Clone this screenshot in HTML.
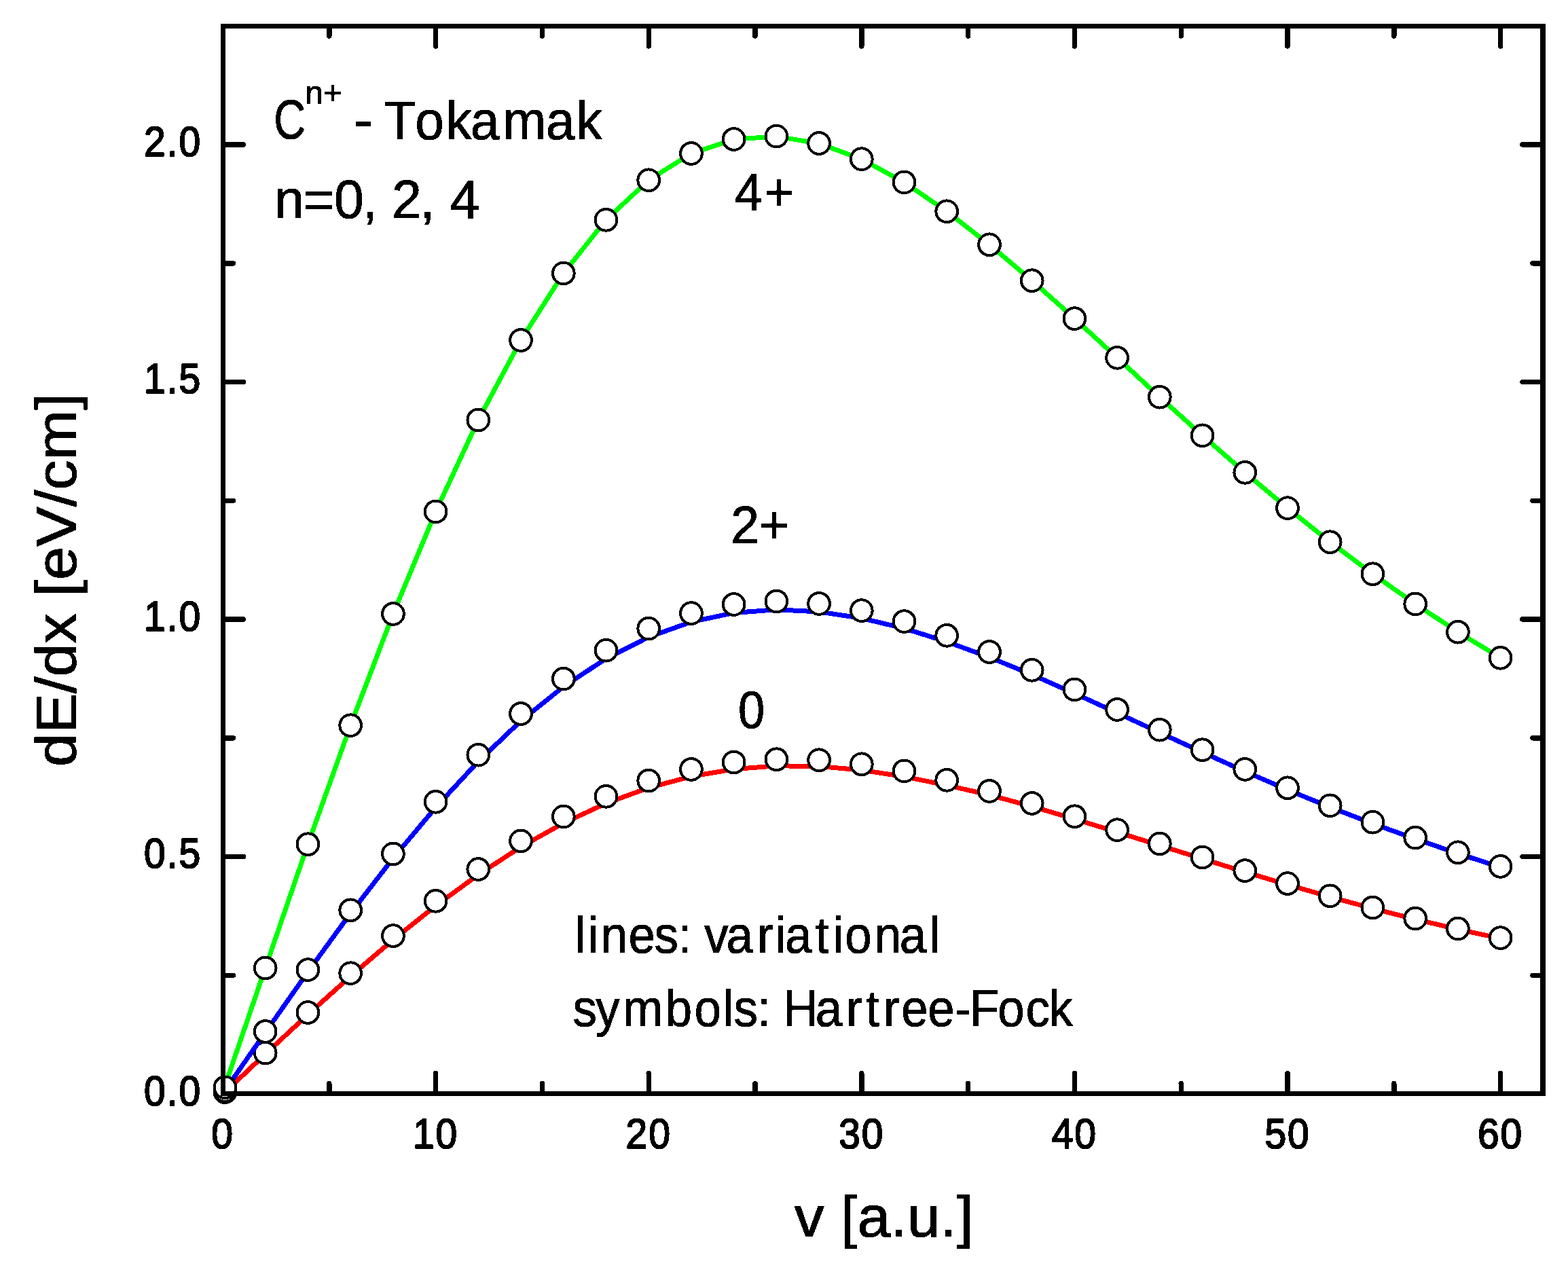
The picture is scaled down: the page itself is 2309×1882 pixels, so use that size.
<!DOCTYPE html>
<html lang="en"><head><meta charset="utf-8"><title>dE/dx vs v</title>
<style>html,body{margin:0;padding:0;background:#fff}svg{display:block}</style></head>
<body>
<svg width="2309" height="1882" viewBox="0 0 2309 1882">
<rect width="2309" height="1882" fill="#fff"/>
<defs><filter id="thr" x="-5%" y="-5%" width="110%" height="110%" color-interpolation-filters="sRGB"><feComponentTransfer><feFuncA type="discrete" tableValues="0 1"/></feComponentTransfer></filter></defs>
<g shape-rendering="crispEdges">
<polyline points="329.9,1609.6 390.7,1552.2 453.4,1494.1 516.2,1437.6 578.9,1383.9 641.6,1333.9 704.3,1288.1 767.0,1247.2 829.8,1212.1 892.5,1183.0 955.2,1160.1 1017.9,1143.4 1080.6,1132.7 1143.4,1127.8 1206.1,1128.5 1268.8,1134.1 1331.5,1143.7 1394.2,1156.3 1457.0,1170.7 1519.7,1187.6 1582.4,1206.1 1645.1,1225.4 1707.8,1245.0 1770.6,1264.7 1833.3,1284.1 1896.0,1302.8 1958.7,1320.8 2021.4,1337.8 2084.2,1353.7 2146.9,1368.5 2209.6,1382.0" fill="none" stroke="#ff0000" stroke-width="7" stroke-linejoin="round"/>
<g fill="#fff" stroke="#000" stroke-width="4.0"><circle cx="331.4" cy="1608.1" r="15.85"/><circle cx="390.7" cy="1550.6" r="15.85"/><circle cx="453.4" cy="1491.0" r="15.85"/><circle cx="516.2" cy="1433.2" r="15.85"/><circle cx="578.9" cy="1378.1" r="15.85"/><circle cx="641.6" cy="1326.8" r="15.85"/><circle cx="704.3" cy="1280.0" r="15.85"/><circle cx="767.0" cy="1238.4" r="15.85"/><circle cx="829.8" cy="1202.5" r="15.85"/><circle cx="892.5" cy="1172.8" r="15.85"/><circle cx="955.2" cy="1149.6" r="15.85"/><circle cx="1017.9" cy="1132.9" r="15.85"/><circle cx="1080.6" cy="1122.5" r="15.85"/><circle cx="1143.4" cy="1118.2" r="15.85"/><circle cx="1206.1" cy="1119.3" r="15.85"/><circle cx="1268.8" cy="1125.3" r="15.85"/><circle cx="1331.5" cy="1135.4" r="15.85"/><circle cx="1394.2" cy="1148.8" r="15.85"/><circle cx="1457.0" cy="1164.9" r="15.85"/><circle cx="1519.7" cy="1182.9" r="15.85"/><circle cx="1582.4" cy="1202.2" r="15.85"/><circle cx="1645.1" cy="1222.2" r="15.85"/><circle cx="1707.8" cy="1242.4" r="15.85"/><circle cx="1770.6" cy="1262.5" r="15.85"/><circle cx="1833.3" cy="1282.1" r="15.85"/><circle cx="1896.0" cy="1301.1" r="15.85"/><circle cx="1958.7" cy="1319.3" r="15.85"/><circle cx="2021.4" cy="1336.5" r="15.85"/><circle cx="2084.2" cy="1352.6" r="15.85"/><circle cx="2146.9" cy="1367.5" r="15.85"/><circle cx="2209.6" cy="1381.1" r="15.85"/></g>
<polyline points="329.9,1607.7 390.7,1520.5 453.4,1431.1 516.2,1344.9 578.9,1263.8 641.6,1189.0 704.3,1121.3 767.0,1061.7 829.8,1011.1 892.5,969.9 955.2,938.2 1017.9,915.8 1080.6,902.5 1143.4,897.8 1206.1,900.9 1268.8,910.4 1331.5,925.4 1394.2,945.0 1457.0,967.9 1519.7,993.6 1582.4,1021.2 1645.1,1049.8 1707.8,1078.9 1770.6,1107.8 1833.3,1136.1 1896.0,1163.1 1958.7,1188.7 2021.4,1212.8 2084.2,1235.5 2146.9,1256.8 2209.6,1277.2" fill="none" stroke="#0000ff" stroke-width="7" stroke-linejoin="round"/>
<g fill="#fff" stroke="#000" stroke-width="4.0"><circle cx="331.4" cy="1606.2" r="15.85"/><circle cx="390.7" cy="1519.0" r="15.85"/><circle cx="453.4" cy="1428.1" r="15.85"/><circle cx="516.2" cy="1340.3" r="15.85"/><circle cx="578.9" cy="1257.4" r="15.85"/><circle cx="641.6" cy="1180.8" r="15.85"/><circle cx="704.3" cy="1111.7" r="15.85"/><circle cx="767.0" cy="1051.0" r="15.85"/><circle cx="829.8" cy="999.6" r="15.85"/><circle cx="892.5" cy="957.7" r="15.85"/><circle cx="955.2" cy="925.6" r="15.85"/><circle cx="1017.9" cy="903.1" r="15.85"/><circle cx="1080.6" cy="890.0" r="15.85"/><circle cx="1143.4" cy="885.5" r="15.85"/><circle cx="1206.1" cy="888.9" r="15.85"/><circle cx="1268.8" cy="899.1" r="15.85"/><circle cx="1331.5" cy="915.1" r="15.85"/><circle cx="1394.2" cy="935.8" r="15.85"/><circle cx="1457.0" cy="960.0" r="15.85"/><circle cx="1519.7" cy="986.8" r="15.85"/><circle cx="1582.4" cy="1015.4" r="15.85"/><circle cx="1645.1" cy="1044.9" r="15.85"/><circle cx="1707.8" cy="1074.7" r="15.85"/><circle cx="1770.6" cy="1104.2" r="15.85"/><circle cx="1833.3" cy="1132.9" r="15.85"/><circle cx="1896.0" cy="1160.3" r="15.85"/><circle cx="1958.7" cy="1186.3" r="15.85"/><circle cx="2021.4" cy="1210.7" r="15.85"/><circle cx="2084.2" cy="1233.6" r="15.85"/><circle cx="2146.9" cy="1255.3" r="15.85"/><circle cx="2209.6" cy="1275.9" r="15.85"/></g>
<polyline points="329.9,1602.8 390.7,1425.5 453.4,1243.2 516.2,1068.2 578.9,904.0 641.6,753.4 704.3,618.5 767.0,501.0 829.8,402.4 892.5,323.8 955.2,265.3 1017.9,226.1 1080.6,205.2 1143.4,200.9 1206.1,211.3 1268.8,234.4 1331.5,268.5 1394.2,311.3 1457.0,360.3 1519.7,413.2 1582.4,469.1 1645.1,526.8 1707.8,584.7 1770.6,641.3 1833.3,695.8 1896.0,748.2 1958.7,798.2 2021.4,845.2 2084.2,889.4 2146.9,930.7 2209.6,968.8" fill="none" stroke="#00ff00" stroke-width="7" stroke-linejoin="round"/>
<g fill="#fff" stroke="#000" stroke-width="4.0"><circle cx="331.4" cy="1601.3" r="15.85"/><circle cx="390.7" cy="1425.5" r="15.85"/><circle cx="453.4" cy="1243.2" r="15.85"/><circle cx="516.2" cy="1068.2" r="15.85"/><circle cx="578.9" cy="904.0" r="15.85"/><circle cx="641.6" cy="753.4" r="15.85"/><circle cx="704.3" cy="618.5" r="15.85"/><circle cx="767.0" cy="501.0" r="15.85"/><circle cx="829.8" cy="402.4" r="15.85"/><circle cx="892.5" cy="323.8" r="15.85"/><circle cx="955.2" cy="265.3" r="15.85"/><circle cx="1017.9" cy="226.0" r="15.85"/><circle cx="1080.6" cy="205.0" r="15.85"/><circle cx="1143.4" cy="200.6" r="15.85"/><circle cx="1206.1" cy="211.0" r="15.85"/><circle cx="1268.8" cy="234.2" r="15.85"/><circle cx="1331.5" cy="268.4" r="15.85"/><circle cx="1394.2" cy="311.3" r="15.85"/><circle cx="1457.0" cy="360.3" r="15.85"/><circle cx="1519.7" cy="413.2" r="15.85"/><circle cx="1582.4" cy="469.1" r="15.85"/><circle cx="1645.1" cy="526.8" r="15.85"/><circle cx="1707.8" cy="584.7" r="15.85"/><circle cx="1770.6" cy="641.3" r="15.85"/><circle cx="1833.3" cy="695.8" r="15.85"/><circle cx="1896.0" cy="748.2" r="15.85"/><circle cx="1958.7" cy="798.2" r="15.85"/><circle cx="2021.4" cy="845.2" r="15.85"/><circle cx="2084.2" cy="889.4" r="15.85"/><circle cx="2146.9" cy="930.7" r="15.85"/><circle cx="2209.6" cy="968.8" r="15.85"/></g>
<g stroke="#000" fill="none">
<path d="M328.5 38.5H2271.5V1610.5H328.5Z" stroke-width="7" stroke-linejoin="miter"/>
<line x1="2272.0" y1="35.0" x2="2272.0" y2="1614.0" stroke-width="8"/>
<path d="M484.8 1609.5V1595.5 M484.8 39.5V53.0 M641.6 1609.5V1580.5 M641.6 39.5V68.0 M798.4 1609.5V1595.5 M798.4 39.5V53.0 M955.2 1609.5V1580.5 M955.2 39.5V68.0 M1112.0 1609.5V1595.5 M1112.0 39.5V53.0 M1268.8 1609.5V1580.5 M1268.8 39.5V68.0 M1425.6 1609.5V1595.5 M1425.6 39.5V53.0 M1582.4 1609.5V1580.5 M1582.4 39.5V68.0 M1739.2 1609.5V1595.5 M1739.2 39.5V53.0 M1896.0 1609.5V1580.5 M1896.0 39.5V68.0 M2052.8 1609.5V1595.5 M2052.8 39.5V53.0 M2209.6 1609.5V1580.5 M2209.6 39.5V68.0 M329.5 1436.2H343.5 M2271.0 1436.2H2257.0 M329.5 1261.5H358.5 M2271.0 1261.5H2242.0 M329.5 1086.8H343.5 M2271.0 1086.8H2257.0 M329.5 912.0H358.5 M2271.0 912.0H2242.0 M329.5 737.2H343.5 M2271.0 737.2H2257.0 M329.5 562.5H358.5 M2271.0 562.5H2242.0 M329.5 387.8H343.5 M2271.0 387.8H2257.0 M329.5 213.0H358.5 M2271.0 213.0H2242.0" stroke-width="7.4" stroke-linecap="round"/>
</g>
</g>
<g filter="url(#thr)">
<g font-family="'Liberation Sans', Arial, Helvetica, sans-serif" font-size="63.2" fill="#000" stroke="#000" stroke-width="2.0" stroke-linejoin="round" letter-spacing="2.22" transform="scale(0.9,1)">
<text x="364.4" y="1690.6" text-anchor="middle">0</text>
<text x="712.9" y="1690.6" text-anchor="middle">10</text>
<text x="1061.3" y="1690.6" text-anchor="middle">20</text>
<text x="1409.8" y="1690.6" text-anchor="middle">30</text>
<text x="1758.2" y="1690.6" text-anchor="middle">40</text>
<text x="2106.7" y="1690.6" text-anchor="middle">50</text>
<text x="2455.1" y="1690.6" text-anchor="middle">60</text>
<text x="330.2" y="1628.0" text-anchor="end">0.0</text>
<text x="330.2" y="1278.5" text-anchor="end">0.5</text>
<text x="330.2" y="929.0" text-anchor="end">1.0</text>
<text x="330.2" y="579.5" text-anchor="end">1.5</text>
<text x="330.2" y="230.0" text-anchor="end">2.0</text>
</g>
<g font-family="'Liberation Sans', Arial, Helvetica, sans-serif" fill="#000" stroke="#000" stroke-width="1.2" stroke-linejoin="round">
<text transform="translate(1301.5 1820.6) scale(1.03,1)" font-size="85.3" text-anchor="middle">v [a.u.]</text>
<text transform="translate(111.6 854.2) rotate(-90) scale(1.052,1)" font-size="84" text-anchor="middle">dE/dx [eV/cm]</text>
</g>
<g font-family="'Liberation Sans', Arial, Helvetica, sans-serif" fill="#000" stroke="#000" stroke-width="1.0" stroke-linejoin="round">
<text x="504.0" y="204.0" font-size="81.0" transform="scale(0.8,1.0)" xml:space="preserve">C</text>
<text x="449.2 476.0" y="152.8" font-size="48.0" xml:space="preserve">n+</text>
<text x="473.1" y="203.8" font-size="80" transform="scale(1.1,1.0)" xml:space="preserve">-</text>
<text x="595.5 643.5 690.9 729.1 779.6 846.0 893.0" y="204.6" font-size="80.6" transform="scale(0.95,1.0)" xml:space="preserve">Tokamak</text>
<text x="403.9 446.5 492.1 533.8 555.7 576.9 618.5 640.5 662.4" y="321.3" font-size="79.0" xml:space="preserve">n=0, 2, 4</text>
<text x="1138.6 1184.7" y="309.6" font-size="78" transform="scale(0.95,1.0)" xml:space="preserve">4+</text>
<text x="1109.2 1152.6" y="799.7" font-size="78" transform="scale(0.97,1.0)" xml:space="preserve">2+</text>
<text x="1194.4" y="1072.0" font-size="77.5" transform="scale(0.91,1.0)" xml:space="preserve">0</text>
<text x="900.5 920.9 941.2 984.6 1024.9 1062.5 1083.4 1103.5 1137.9 1186.2 1214.7 1229.8 1277.5 1304.9 1323.8 1370.0 1409.4 1456.2" y="1403.4" font-size="75.3" transform="scale(0.94,1.0)" xml:space="preserve">lines: variational</text>
<text x="897.4 933.2 975.9 1042.4 1087.8 1132.5 1149.5 1186.7 1207.6 1226.9 1277.4 1325.5 1356.4 1384.0 1412.1 1453.5 1496.1 1518.9 1563.0 1606.8 1643.2" y="1511.2" font-size="75.3" transform="scale(0.94,1.0)" xml:space="preserve">symbols: Hartree-Fock</text>
</g>
</g>
</svg>
</body></html>
